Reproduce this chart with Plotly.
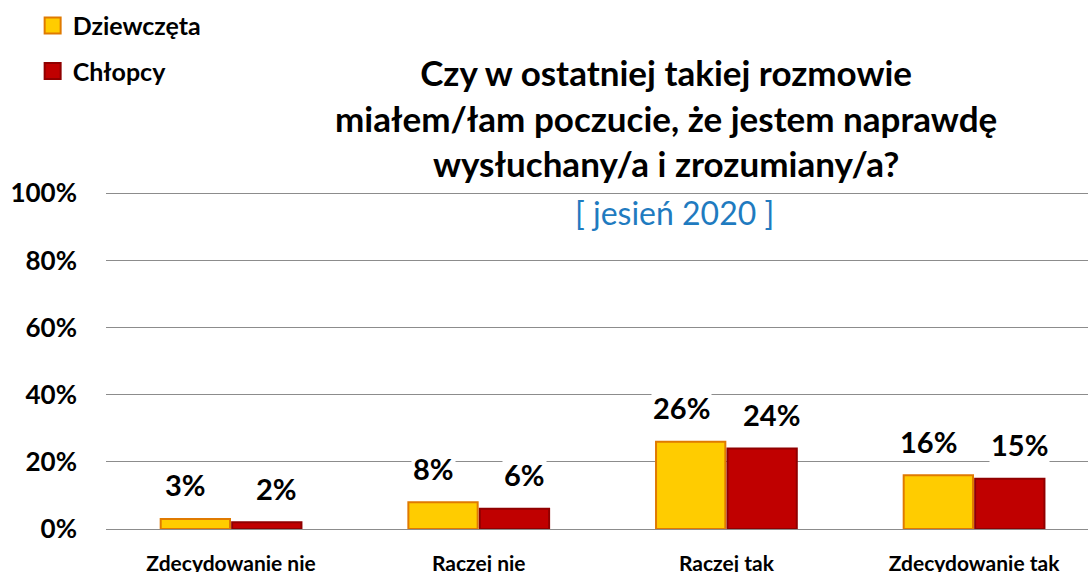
import plotly.graph_objects as go

# Chart data
categories = ["Zdecydowanie nie", "Raczej nie", "Raczej tak", "Zdecydowanie tak"]
girls = [3, 8, 26, 16]
boys = [2, 6, 24, 15]
series_names = ["Dziewczęta", "Chłopcy"]
y_ticks = [0, 20, 40, 60, 80, 100]

FONT = "Lato"
girl_fill, girl_edge = "#FFCC00", "#E07A00"
boy_fill, boy_edge = "#C00000", "#900000"

fig = go.Figure()

fig.add_trace(go.Bar(
    x=categories, y=girls, name=series_names[0], showlegend=False,
    marker=dict(color=girl_fill, line=dict(color=girl_edge, width=2)),
    hoverinfo="skip",
))
fig.add_trace(go.Bar(
    x=categories, y=boys, name=series_names[1], showlegend=False,
    marker=dict(color=boy_fill, line=dict(color=boy_edge, width=2)),
    hoverinfo="skip",
))

# legend-only entries with bigger square swatches
for name, fill, edge, grp in ((series_names[0], girl_fill, girl_edge, "g"),
                              (series_names[1], boy_fill, boy_edge, "b")):
    fig.add_trace(go.Scatter(
        x=[None], y=[None], mode="markers", name=name, legendgroup=grp,
        marker=dict(symbol="square", size=16, color=fill, line=dict(color=edge, width=2)),
    ))

# value labels with white background (they cut the gridlines like the original)
for i, cat in enumerate(categories):
    for val, off in ((girls[i], -0.183), (boys[i], 0.183)):
        fig.add_annotation(
            x=i + off, y=val, xref="x", yref="y",
            text=f"<b>{val}%</b>", showarrow=False,
            yshift=34, bgcolor="white",
            font=dict(size=29, color="black", family=FONT),
        )

# title
fig.add_annotation(
    x=0.57, y=1.215, xref="paper", yref="paper", yanchor="middle",
    text="<b>Czy w ostatniej takiej rozmowie<br>miałem/łam poczucie, że jestem naprawdę<br>wysłuchany/a i zrozumiany/a?</b>",
    showarrow=False, align="center",
    font=dict(size=35, color="black", family=FONT),
)
fig.add_annotation(
    x=0.579, y=0.935, xref="paper", yref="paper", yanchor="middle",
    text="[ jesień 2020 ]", showarrow=False,
    font=dict(size=32, color="#1F7BC0", family=FONT),
)

fig.update_layout(
    width=1088, height=572,
    barmode="group", bargap=0.423, bargroupgap=0.03,
    plot_bgcolor="white", paper_bgcolor="white",
    margin=dict(l=106, r=0, t=190, b=43, autoexpand=False),
    legend=dict(
        x=0.03, y=0.995, xref="container", yref="container", xanchor="left", yanchor="top",
        traceorder="grouped", tracegroupgap=10,
        font=dict(size=25, color="black", family=FONT, weight="bold"),
        itemwidth=30, bgcolor="rgba(0,0,0,0)",
    ),
    xaxis=dict(
        range=[-0.505, 3.46],
        showgrid=False, showline=False, ticks="",
        tickfont=dict(size=21, color="black", family=FONT, weight="bold"),
        ticklabelstandoff=20,
    ),
    yaxis=dict(
        range=[0, 101], tickvals=y_ticks, ticktext=[f"{v}%" for v in y_ticks],
        showgrid=True, gridcolor="#8C8C8C", gridwidth=1,
        zeroline=True, zerolinecolor="#8C8C8C", zerolinewidth=1,
        tickfont=dict(size=26, color="black", family=FONT, weight="bold"),
        ticklabelstandoff=28,
    ),
    showlegend=True,
)

fig.write_html("out.html", config={"displayModeBar": False},
               post_script="document.body.style.margin='0';")
